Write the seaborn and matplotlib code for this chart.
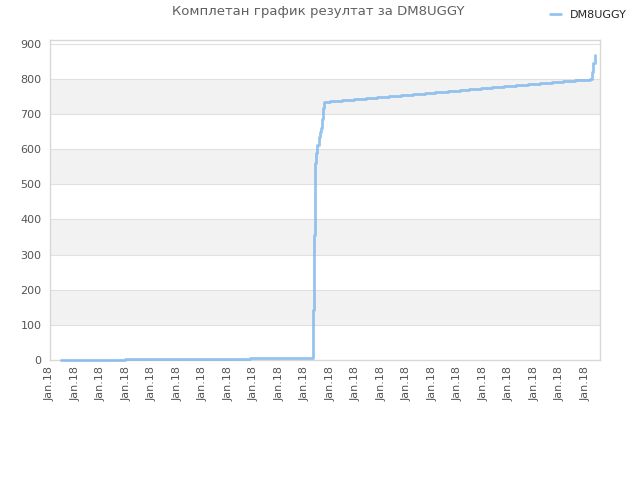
import numpy as np
import pandas as pd
import seaborn as sns
import matplotlib.pyplot as plt
import matplotlib.dates as mdates

# days after 2018-01-01 and the score at each step
days = [0.45, 2.96, 7.86, 10.31, 10.36, 10.40, 10.45, 10.49, 10.54, 10.60, 10.64,
        10.67, 10.71, 10.75, 10.99, 11.47, 11.94, 12.41, 12.84, 13.31, 13.78,
        14.22, 14.69, 15.08, 15.59, 16.06, 16.45, 16.92, 17.35, 17.82, 18.29,
        18.73, 19.20, 19.67, 20.10, 20.57, 21.16, 21.24, 21.31, 21.39]
scores = [1, 3, 6, 142, 355, 559, 589, 611, 635, 649, 660,
          684, 716, 734, 736, 739, 742, 745, 748, 750, 753,
          756, 759, 762, 764, 767, 770, 773, 776, 779, 782,
          784, 787, 790, 793, 796, 799, 820, 845, 866]
series_name = "DM8UGGY"
title = "Комплетан график резултат за DM8UGGY"

start = pd.Timestamp("2018-01-01")
df = pd.DataFrame({
    "time": start + pd.to_timedelta(days, unit="D"),
    "score": scores,
})

sns.set_style("white")
plt.rcParams['font.family'] = ['DejaVu Sans']

fig = plt.figure(figsize=(6.4, 4.8), dpi=100)
ax = fig.add_axes([50 / 640, 1 - 360 / 480, 550 / 640, 320 / 480])

# alternating bands + grid
for lo in [100, 300, 500, 700]:
    ax.axhspan(lo, lo + 100, color="#f2f2f2", zorder=0, lw=0)
for yv in range(100, 1000, 100):
    ax.axhline(yv, color="#e0e0e0", lw=0.8, zorder=0.5)

sns.lineplot(data=df, x="time", y="score", ax=ax, color="#7cb5ec", alpha=0.8,
             lw=2, drawstyle="steps-post", estimator=None, sort=False,
             label=series_name, legend=False, zorder=3, clip_on=False)

ax.set_ylim(0, 910)
ax.set_yticks(range(0, 1000, 100))
ax.set_xlim(start, start + pd.Timedelta(days=21.57))
ax.xaxis.set_major_locator(mdates.DayLocator())
ax.xaxis.set_major_formatter(mdates.DateFormatter("%b.%y"))
ax.tick_params(axis="x", rotation=90, labelsize=8, colors="#555555", length=0, pad=4)
ax.tick_params(axis="y", labelsize=8, colors="#555555", length=0, pad=6)
ax.set_xlabel("")
ax.set_ylabel("")
for sp in ax.spines.values():
    sp.set_color("#d8d8d8")
    sp.set_linewidth(1)
    sp.set_zorder(1)

fig.text(0.497, 0.975, title, ha="center", va="center", fontsize=9.5, color="#606060")

handles, labels = ax.get_legend_handles_labels()
fig.legend(handles, labels, loc="upper right", bbox_to_anchor=(0.995, 1.0),
           frameon=False, fontsize=8, handlelength=1.0, handletextpad=0.8)

fig.savefig("out.png", dpi=100)
